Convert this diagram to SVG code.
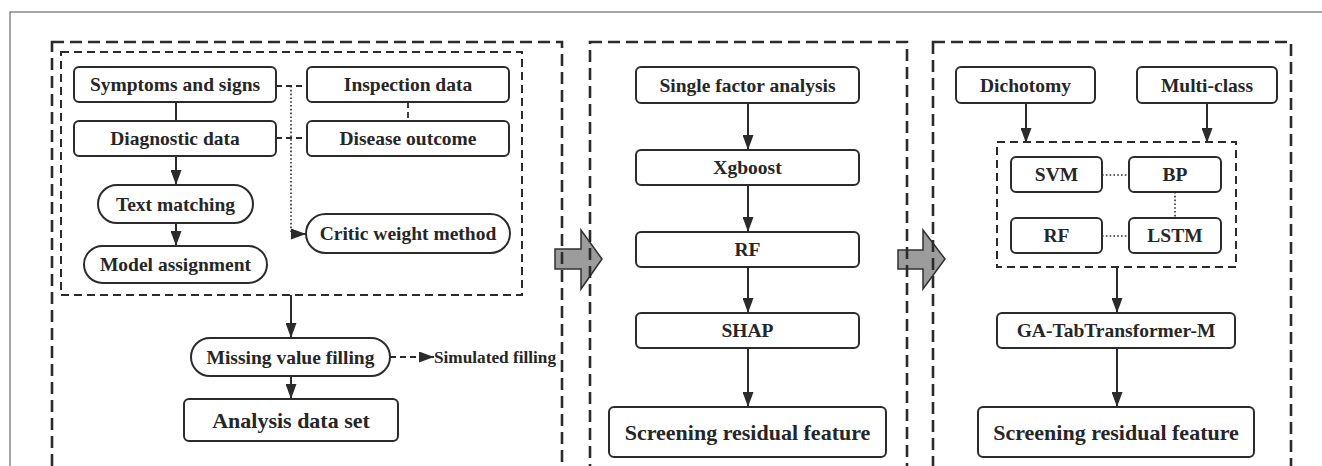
<svg xmlns="http://www.w3.org/2000/svg" width="1322" height="466" viewBox="0 0 1322 466">
  <defs>
    <style>
      .frame { fill: none; stroke: #6a6a6a; stroke-width: 1.2; }
      .panel { fill: none; stroke: #2b2b2b; stroke-width: 2.6; stroke-dasharray: 12 6; }
      .inner { fill: none; stroke: #2b2b2b; stroke-width: 2; stroke-dasharray: 8 5; }
      .box { fill: #ffffff; stroke: #2b2b2b; stroke-width: 2; }
      text { font-family: 'Liberation Serif', 'DejaVu Serif', serif; font-weight: 700; font-size: 19.5px; fill: #262626; text-anchor: middle; }
      .big { font-size: 22px; }
      .small { font-size: 16px; text-anchor: start; }
      .flow { fill: none; stroke: #2b2b2b; stroke-width: 2; }
      .dash { fill: none; stroke: #2b2b2b; stroke-width: 1.8; stroke-dasharray: 6 4; }
      .dot { fill: none; stroke: #2b2b2b; stroke-width: 1.6; stroke-dasharray: 1.6 2.2; }
      .big-arrow { fill: #9c9c9c; stroke: #303030; stroke-width: 1.5; stroke-linejoin: miter; }
    </style>
    <marker id="head" viewBox="0 0 15 11" refX="15" refY="5.5" markerWidth="15" markerHeight="11" markerUnits="userSpaceOnUse" orient="auto">
      <path d="M0,0 L15,5.5 L0,11 z" fill="#2b2b2b"/>
    </marker>
  </defs>

  <!-- figure frame -->
  <rect class="frame" x="10" y="12" width="1330" height="480"/>

  <!-- block arrows between stages -->
  <g id="stage-arrows">
    <polygon class="big-arrow" points="555,249 581,249 581,230 602,259 581,289 581,269 555,269"/>
    <polygon class="big-arrow" points="898,250 923,250 923,230 945,259 923,289 923,269 898,269"/>
  </g>

  <!-- stage panels -->
  <g id="panels">
    <rect class="panel" x="52" y="42" width="510" height="440"/>
    <rect class="inner" x="61" y="52" width="461" height="243"/>
    <rect class="panel" x="590" y="42" width="317" height="440"/>
    <rect class="panel" x="933" y="42" width="358" height="440"/>
    <rect class="inner" x="997" y="142" width="239" height="125"/>
  </g>

  <!-- connectors -->
  <g id="connectors">
    <!-- stage 1 -->
    <line class="flow" x1="176" y1="102" x2="176" y2="121"/>
    <line class="dash" x1="276" y1="86" x2="307" y2="86"/>
    <line class="dash" x1="276" y1="138" x2="307" y2="138"/>
    <line class="dash" x1="408" y1="102" x2="408" y2="121"/>
    <line class="flow" x1="176" y1="156" x2="176" y2="185" marker-end="url(#head)"/>
    <line class="flow" x1="176" y1="223" x2="176" y2="246" marker-end="url(#head)"/>
    <polyline class="dot" points="291,86 291,234 299,234"/>
    <line class="flow" x1="296" y1="234" x2="306" y2="234" marker-end="url(#head)" stroke-width="0"/>
    <line class="flow" x1="291" y1="295" x2="291" y2="338" marker-end="url(#head)"/>
    <line class="dash" x1="390" y1="357" x2="422" y2="357"/>
    <line class="flow" x1="420" y1="357" x2="434" y2="357" marker-end="url(#head)" stroke-width="0"/>
    <line class="flow" x1="291" y1="376" x2="291" y2="399" marker-end="url(#head)"/>
    <!-- stage 2 -->
    <line class="flow" x1="748" y1="103" x2="748" y2="150" marker-end="url(#head)"/>
    <line class="flow" x1="748" y1="185" x2="748" y2="232" marker-end="url(#head)"/>
    <line class="flow" x1="748" y1="267" x2="748" y2="313" marker-end="url(#head)"/>
    <line class="flow" x1="748" y1="348" x2="748" y2="407" marker-end="url(#head)"/>
    <!-- stage 3 -->
    <line class="flow" x1="1026" y1="103" x2="1026" y2="143" marker-end="url(#head)"/>
    <line class="flow" x1="1207" y1="103" x2="1207" y2="143" marker-end="url(#head)"/>
    <line class="dot" x1="1102" y1="175" x2="1129" y2="175"/>
    <line class="dot" x1="1175" y1="192" x2="1175" y2="218"/>
    <line class="dot" x1="1102" y1="236" x2="1129" y2="236"/>
    <line class="flow" x1="1117" y1="267" x2="1117" y2="313" marker-end="url(#head)"/>
    <line class="flow" x1="1117" y1="348" x2="1117" y2="407" marker-end="url(#head)"/>
  </g>

  <!-- stage 1: data preparation -->
  <g id="symptoms-signs">
    <rect class="box" x="74" y="67" width="202" height="35" rx="5"/>
    <text x="175" y="91">Symptoms and signs</text>
  </g>
  <g id="inspection-data">
    <rect class="box" x="307" y="67" width="202" height="35" rx="5"/>
    <text x="408" y="91">Inspection data</text>
  </g>
  <g id="diagnostic-data">
    <rect class="box" x="74" y="121" width="202" height="35" rx="5"/>
    <text x="175" y="145">Diagnostic data</text>
  </g>
  <g id="disease-outcome">
    <rect class="box" x="307" y="121" width="202" height="35" rx="5"/>
    <text x="408" y="145">Disease outcome</text>
  </g>
  <g id="text-matching">
    <rect class="box" x="98" y="185" width="155" height="38" rx="19"/>
    <text x="175.5" y="210.5">Text matching</text>
  </g>
  <g id="model-assignment">
    <rect class="box" x="84" y="246" width="183" height="37" rx="18.5"/>
    <text x="175.5" y="271">Model assignment</text>
  </g>
  <g id="critic-weight">
    <rect class="box" x="306" y="214" width="204" height="39" rx="19.5"/>
    <text x="408" y="240">Critic weight method</text>
  </g>
  <g id="missing-value">
    <rect class="box" x="191" y="338" width="199" height="38" rx="19"/>
    <text x="290.5" y="363.5">Missing value filling</text>
  </g>
  <g id="simulated-filling">
    <text class="small" x="434" y="362.5" textLength="122" lengthAdjust="spacingAndGlyphs">Simulated filling</text>
  </g>
  <g id="analysis-set">
    <rect class="box" x="184" y="399" width="214" height="42" rx="5"/>
    <text class="big" x="291" y="427.5">Analysis data set</text>
  </g>

  <!-- stage 2: feature screening -->
  <g id="single-factor">
    <rect class="box" x="636" y="67" width="223" height="36" rx="5"/>
    <text x="747.5" y="91.5">Single factor analysis</text>
  </g>
  <g id="xgboost">
    <rect class="box" x="636" y="150" width="223" height="35" rx="5"/>
    <text x="747.5" y="174">Xgboost</text>
  </g>
  <g id="rf-screen">
    <rect class="box" x="636" y="232" width="223" height="35" rx="5"/>
    <text x="747.5" y="256">RF</text>
  </g>
  <g id="shap">
    <rect class="box" x="636" y="313" width="223" height="35" rx="5"/>
    <text x="747.5" y="337">SHAP</text>
  </g>
  <g id="screening-2">
    <rect class="box" x="609" y="407" width="277" height="50" rx="5"/>
    <text class="big" x="747.5" y="439.5">Screening residual feature</text>
  </g>

  <!-- stage 3: modelling -->
  <g id="dichotomy">
    <rect class="box" x="956" y="67" width="139" height="36" rx="5"/>
    <text x="1025.5" y="91.5">Dichotomy</text>
  </g>
  <g id="multi-class">
    <rect class="box" x="1137" y="67" width="140" height="36" rx="5"/>
    <text x="1207" y="91.5">Multi-class</text>
  </g>
  <g id="svm">
    <rect class="box" x="1011" y="157" width="91" height="35" rx="5"/>
    <text x="1056.5" y="181">SVM</text>
  </g>
  <g id="bp">
    <rect class="box" x="1129" y="157" width="92" height="35" rx="5"/>
    <text x="1175" y="181">BP</text>
  </g>
  <g id="rf-model">
    <rect class="box" x="1011" y="218" width="91" height="35" rx="5"/>
    <text x="1056.5" y="242">RF</text>
  </g>
  <g id="lstm">
    <rect class="box" x="1129" y="218" width="92" height="35" rx="5"/>
    <text x="1175" y="242">LSTM</text>
  </g>
  <g id="ga-tabtransformer">
    <rect class="box" x="997" y="313" width="238" height="35" rx="5"/>
    <text x="1116" y="337">GA-TabTransformer-M</text>
  </g>
  <g id="screening-3">
    <rect class="box" x="978" y="407" width="276" height="50" rx="5"/>
    <text class="big" x="1116" y="439.5">Screening residual feature</text>
  </g>
</svg>
